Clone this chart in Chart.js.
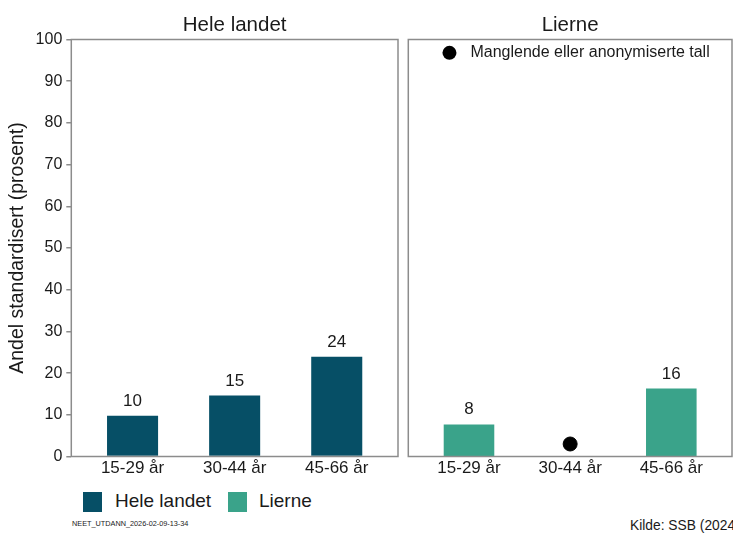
<!DOCTYPE html>
<html>
<head>
<meta charset="utf-8">
<script src="https://cdn.jsdelivr.net/npm/chart.js@4.4.1/dist/chart.umd.min.js"></script>
<style>
  body { margin: 0; width: 733px; height: 533px; overflow: hidden; background: #fff; position: relative;
         font-family: "Liberation Sans", Arial, sans-serif; color: #1a1a1a; }
  #p1 { position: absolute; left: 0; top: 0; width: 402px; height: 480px; }
  #p2 { position: absolute; left: 400px; top: 0; width: 340px; height: 480px; }
  .key { position: absolute; top: 492px; width: 19px; height: 20px; }
  .keytxt { position: absolute; top: 490px; font-size: 19px; line-height: 22px; }
  #stamp { position: absolute; left: 72px; top: 519px; font-size: 7.3px; line-height: 10px; }
  #src { position: absolute; left: 630px; top: 518px; font-size: 13.8px; line-height: 16px; white-space: nowrap; }
</style>
</head>
<body>
<div id="p1"><canvas id="c1"></canvas></div>
<div id="p2"><canvas id="c2"></canvas></div>
<div class="key" style="left:83px;background:#064f66"></div>
<div class="keytxt" style="left:115px">Hele landet</div>
<div class="key" style="left:228px;background:#3aa38a"></div>
<div class="keytxt" style="left:259px">Lierne</div>
<div id="stamp">NEET_UTDANN_2026-02-09-13-34</div>
<div id="src">Kilde: SSB (2024)</div>
<script>
const categories = ['15-29 år', '30-44 år', '45-66 år'];
const heleLandet = [9.8, 14.6, 23.9];
const lierne = [7.7, null, 16.3];
const lierneMissing = [null, 3, null];
const panelTitles = ['Hele landet', 'Lierne'];
const noteText = 'Manglende eller anonymiserte tall';

const FONT = '"Liberation Sans", Arial, sans-serif';
const INK = '#1a1a1a';
const FRAME = '#8c8c8c';

const toPoints = arr => arr.map((v, i) => ({ x: i + 1, y: v })).filter(p => p.y !== null);

const frame = {
  id: 'frame',
  afterDraw(chart) {
    const { ctx, chartArea: a } = chart;
    ctx.save();
    ctx.strokeStyle = FRAME;
    ctx.lineWidth = 1.5;
    ctx.strokeRect(a.left, a.top, a.right - a.left, a.bottom - a.top);
    ctx.restore();
  }
};

const valueLabels = {
  id: 'valueLabels',
  afterDatasetsDraw(chart) {
    const ctx = chart.ctx;
    chart.data.datasets.forEach((ds, di) => {
      if (ds.type === 'scatter') return;
      chart.getDatasetMeta(di).data.forEach((bar, i) => {
        ctx.save();
        ctx.font = '17px ' + FONT;
        ctx.fillStyle = INK;
        ctx.textAlign = 'center';
        ctx.textBaseline = 'alphabetic';
        ctx.fillText(Math.round(ds.data[i].y), bar.x, bar.y - 10);
        ctx.restore();
      });
    });
  }
};

const note = {
  id: 'note',
  afterDraw(chart) {
    const ctx = chart.ctx;
    const x = chart.scales.x.getPixelForValue(0.807);
    const y = chart.scales.y.getPixelForValue(96.8);
    ctx.save();
    ctx.fillStyle = '#000';
    ctx.beginPath();
    ctx.arc(x, y, 7, 0, Math.PI * 2);
    ctx.fill();
    ctx.font = '16px ' + FONT;
    ctx.fillStyle = INK;
    ctx.textBaseline = 'middle';
    ctx.fillText(noteText, x + 21, y);
    ctx.restore();
  }
};

function makeOptions(title, showY, padding) {
  return {
    responsive: true,
    maintainAspectRatio: false,
    animation: false,
    layout: { padding: padding },
    plugins: {
      legend: { display: false },
      tooltip: { enabled: false },
      title: {
        display: true, text: title, fullSize: false, color: INK,
        font: { family: FONT, size: 20.5, weight: 'normal' },
        padding: { top: 12.7, bottom: 2.2 }
      }
    },
    scales: {
      x: {
        type: 'linear', min: 0.4, max: 3.6, offset: false,
        afterBuildTicks: s => { s.ticks = categories.map((c, i) => ({ value: i + 1 })); },
        afterFit: s => { s.height = 23.5; },
        grid: { display: false, drawTicks: false, offset: false },
        border: { display: false },
        ticks: {
          callback: v => categories[v - 1],
          color: INK, padding: 2, maxRotation: 0, autoSkip: false,
          font: { family: FONT, size: 17 }
        }
      },
      y: {
        display: showY,
        min: 0, max: 100,
        afterFit: s => { if (showY) s.width = 71.3; },
        border: { display: false },
        grid: { drawOnChartArea: false, drawTicks: true, tickLength: 5, color: FRAME, lineWidth: 1.5 },
        ticks: { stepSize: 10, color: INK, padding: 4, font: { family: FONT, size: 16 } },
        title: {
          display: showY, text: 'Andel standardisert (prosent)', color: INK,
          font: { family: FONT, size: 19.5 }, padding: { top: 6.3, bottom: 0 }
        }
      }
    }
  };
}

new Chart(document.getElementById('c1'), {
  type: 'bar',
  data: {
    datasets: [{
      label: panelTitles[0],
      data: toPoints(heleLandet),
      backgroundColor: '#064f66',
      barPercentage: 0.5, categoryPercentage: 1
    }]
  },
  options: makeOptions(panelTitles[0], true, { top: 0, left: 0, right: 4, bottom: 0 }),
  plugins: [valueLabels, frame]
});

new Chart(document.getElementById('c2'), {
  type: 'bar',
  data: {
    datasets: [{
      label: panelTitles[1],
      data: toPoints(lierne),
      backgroundColor: '#3aa38a',
      barPercentage: 0.5, categoryPercentage: 1
    }, {
      type: 'scatter',
      label: noteText,
      data: toPoints(lierneMissing),
      backgroundColor: '#000', borderColor: '#000',
      pointRadius: 7, pointHoverRadius: 7
    }]
  },
  options: makeOptions(panelTitles[1], false, { top: 0, left: 8.3, right: 3.7, bottom: 0 }),
  plugins: [valueLabels, frame, note]
});
</script>
</body>
</html>
